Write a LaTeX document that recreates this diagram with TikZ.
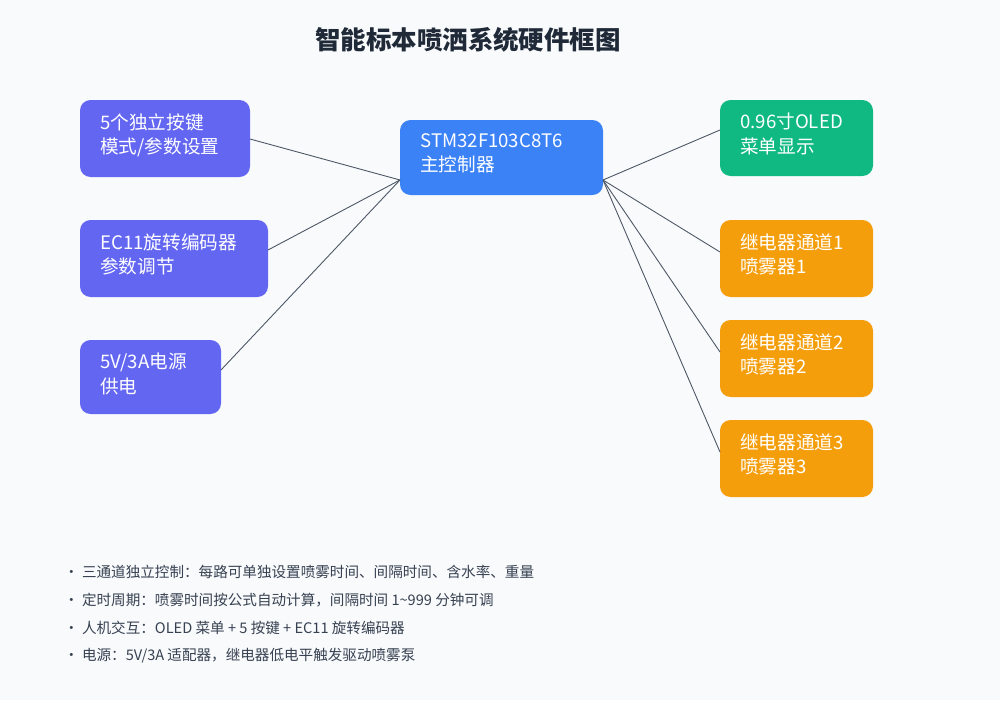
\documentclass[tikz,border=0pt]{standalone}
\usepackage{fontspec}
\setmainfont{Noto Sans CJK SC}
\usetikzlibrary{positioning}
\definecolor{kpurple}{HTML}{6366F1}
\definecolor{kblue}{HTML}{3B82F6}
\definecolor{kgreen}{HTML}{10B981}
\definecolor{korange}{HTML}{F59E0B}
\definecolor{kbg}{HTML}{F8FAFC}
\definecolor{kline}{HTML}{4B5563}
\definecolor{ktitle}{HTML}{1F2937}
\definecolor{knote}{HTML}{374151}
\tikzset{
  box/.style={draw=none, rounded corners=6pt, text=white, align=left, anchor=north west,
    font=\fontsize{10.6}{14}\selectfont, inner sep=0pt, text depth=0pt},
  link/.style={draw=kline, line width=0.5pt},
  note/.style={anchor=west, text=knote, font=\fontsize{8.3}{10}\selectfont}
}
\begin{document}
\begin{tikzpicture}[x=0.02cm, y=-0.02cm]
	\fill[kbg] (0,0) rectangle (1000,700);
	\useasboundingbox (0,0) rectangle (1000,700);

	\node[text=ktitle, font=\bfseries\fontsize{14.5}{16}\selectfont] (title) at (468,40) {智能标本喷洒系统硬件框图};

	% left side
	\fill[kpurple, rounded corners=6pt] (80,100) rectangle (250,177);
	\node[box] (keys) at (100,113) {5个独立按键\\模式/参数设置};
	\fill[kpurple, rounded corners=6pt] (80,220) rectangle (268,297);
	\node[box] (enc) at (100,233) {EC11旋转编码器\\参数调节};
	\fill[kpurple, rounded corners=6pt] (80,340) rectangle (221,414);
	\node[box] (pwr) at (100,353) {5V/3A电源\\供电};

	% controller
	\fill[kblue, rounded corners=6pt] (400,120) rectangle (603,195);
	\node[box] (mcu) at (420,133) {STM32F103C8T6\\主控制器};

	% right side
	\fill[kgreen, rounded corners=6pt] (720,100) rectangle (873,176);
	\node[box] (oled) at (740,113) {0.96寸OLED\\菜单显示};
	\foreach \i/\y in {1/220, 2/320, 3/420}{
		\fill[korange, rounded corners=6pt] (720,\y) rectangle (873,\y+77);
		\node[box] (relay\i) at (740,\y+13) {继电器通道\i\\喷雾器\i};
	}

	\coordinate (mcuL) at (400,180);
	\coordinate (mcuR) at (603,180);
	\coordinate (keysR) at (250,139);
	\coordinate (encR) at (268,250);
	\coordinate (pwrR) at (221,370);
	\coordinate (oledL) at (720,130);
	\coordinate (relay1L) at (720,252);
	\coordinate (relay2L) at (720,352);
	\coordinate (relay3L) at (720,452);

	\draw[link] (keysR) -- (mcuL);
	\draw[link] (encR) -- (mcuL);
	\draw[link] (pwrR) -- (mcuL);
	\draw[link] (mcuR) -- (oledL);
	\foreach \i in {1,2,3}
		\draw[link] (mcuR) -- (relay\i L);

	% notes
	\node[note] (n1) at (58,572) {· 三通道独立控制：每路可单独设置喷雾时间、间隔时间、含水率、重量};
	\node[note] (n2) at (58,600) {· 定时周期：喷雾时间按公式自动计算，间隔时间 1\textasciitilde999 分钟可调};
	\node[note] (n3) at (58,628) {· 人机交互：OLED 菜单 + 5 按键 + EC11 旋转编码器};
	\node[note] (n4) at (58,656) {· 电源：5V/3A 适配器，继电器低电平触发驱动喷雾泵};
\end{tikzpicture}
\end{document}
